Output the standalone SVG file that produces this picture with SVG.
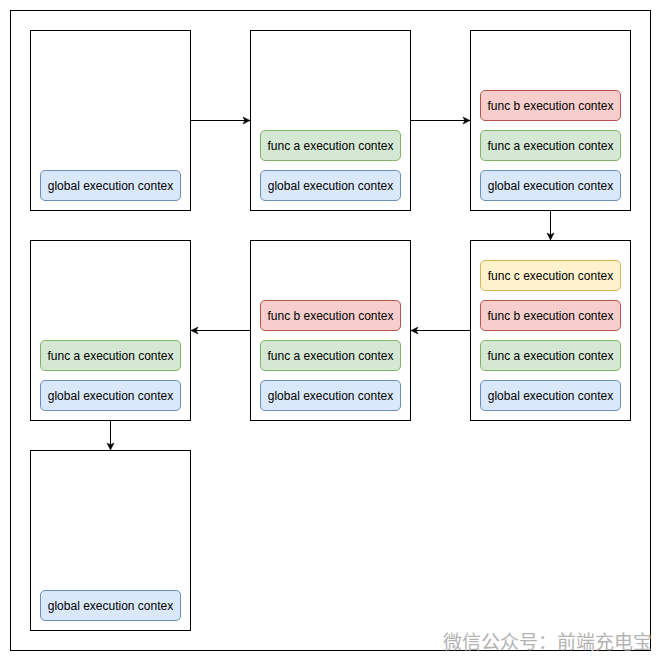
<svg xmlns="http://www.w3.org/2000/svg" width="661" height="661" viewBox="0 0 661 661">
<defs>
<style>
.frame{fill:#fff;stroke:#000;stroke-width:1}
.box{fill:#fff;stroke:#000;stroke-width:1}
.ctx{stroke-width:1}
.g{fill:#dae8fc;stroke:#6c8ebf}
.a{fill:#d5e8d4;stroke:#82b366}
.b{fill:#f8cecc;stroke:#b85450}
.c{fill:#fff2cc;stroke:#d6b656}
text{font-family:"Liberation Sans",Arial,Helvetica,sans-serif;font-size:12px;fill:#000;text-anchor:middle}
.wm{font-family:"Noto Sans CJK SC",sans-serif;font-size:19px;fill:#b3b3b3;text-anchor:end}
.edge{fill:none;stroke:#000;stroke-width:1}
</style>
<marker id="arr" markerWidth="10" markerHeight="10" refX="8" refY="5" orient="auto" markerUnits="userSpaceOnUse">
<path d="M1,1.5 L8,5 L1,8.5 L2.8,5 Z" fill="#000" stroke="#000" stroke-width="0.5"/>
</marker>
<g id="ctxG"><rect class="ctx g" x="0.5" y="0.5" width="140" height="30" rx="4.5"/><text x="70.5" y="19.7">global execution contex</text></g>
<g id="ctxA"><rect class="ctx a" x="0.5" y="0.5" width="140" height="30" rx="4.5"/><text x="70.5" y="19.7">func a execution contex</text></g>
<g id="ctxB"><rect class="ctx b" x="0.5" y="0.5" width="140" height="30" rx="4.5"/><text x="70.5" y="19.7">func b execution contex</text></g>
<g id="ctxC"><rect class="ctx c" x="0.5" y="0.5" width="140" height="30" rx="4.5"/><text x="70.5" y="19.7">func c execution contex</text></g>
</defs>
<rect x="0" y="0" width="661" height="661" fill="#fff"/>
<rect class="frame" x="10.5" y="10.5" width="640" height="640"/>

<g id="step1">
<rect class="box" x="30.5" y="30.5" width="160" height="180"/>
<use href="#ctxG" x="40" y="170"/>
</g>
<g id="step2">
<rect class="box" x="250.5" y="30.5" width="160" height="180"/>
<use href="#ctxA" x="260" y="130"/>
<use href="#ctxG" x="260" y="170"/>
</g>
<g id="step3">
<rect class="box" x="470.5" y="30.5" width="160" height="180"/>
<use href="#ctxB" x="480" y="90"/>
<use href="#ctxA" x="480" y="130"/>
<use href="#ctxG" x="480" y="170"/>
</g>
<g id="step4">
<rect class="box" x="470.5" y="240.5" width="160" height="180"/>
<use href="#ctxC" x="480" y="260"/>
<use href="#ctxB" x="480" y="300"/>
<use href="#ctxA" x="480" y="340"/>
<use href="#ctxG" x="480" y="380"/>
</g>
<g id="step5">
<rect class="box" x="250.5" y="240.5" width="160" height="180"/>
<use href="#ctxB" x="260" y="300"/>
<use href="#ctxA" x="260" y="340"/>
<use href="#ctxG" x="260" y="380"/>
</g>
<g id="step6">
<rect class="box" x="30.5" y="240.5" width="160" height="180"/>
<use href="#ctxA" x="40" y="340"/>
<use href="#ctxG" x="40" y="380"/>
</g>
<g id="step7">
<rect class="box" x="30.5" y="450.5" width="160" height="180"/>
<use href="#ctxG" x="40" y="590"/>
</g>

<g id="connectors">
<path class="edge" d="M190.5,120.5 L250,120.5" marker-end="url(#arr)"/>
<path class="edge" d="M410.5,120.5 L470,120.5" marker-end="url(#arr)"/>
<path class="edge" d="M550.5,210.5 L550.5,240" marker-end="url(#arr)"/>
<path class="edge" d="M470.5,330.5 L411,330.5" marker-end="url(#arr)"/>
<path class="edge" d="M250.5,330.5 L191,330.5" marker-end="url(#arr)"/>
<path class="edge" d="M110.5,420.5 L110.5,450" marker-end="url(#arr)"/>
</g>

<text class="wm" x="652" y="649">微信公众号：前端充电宝</text>
</svg>
